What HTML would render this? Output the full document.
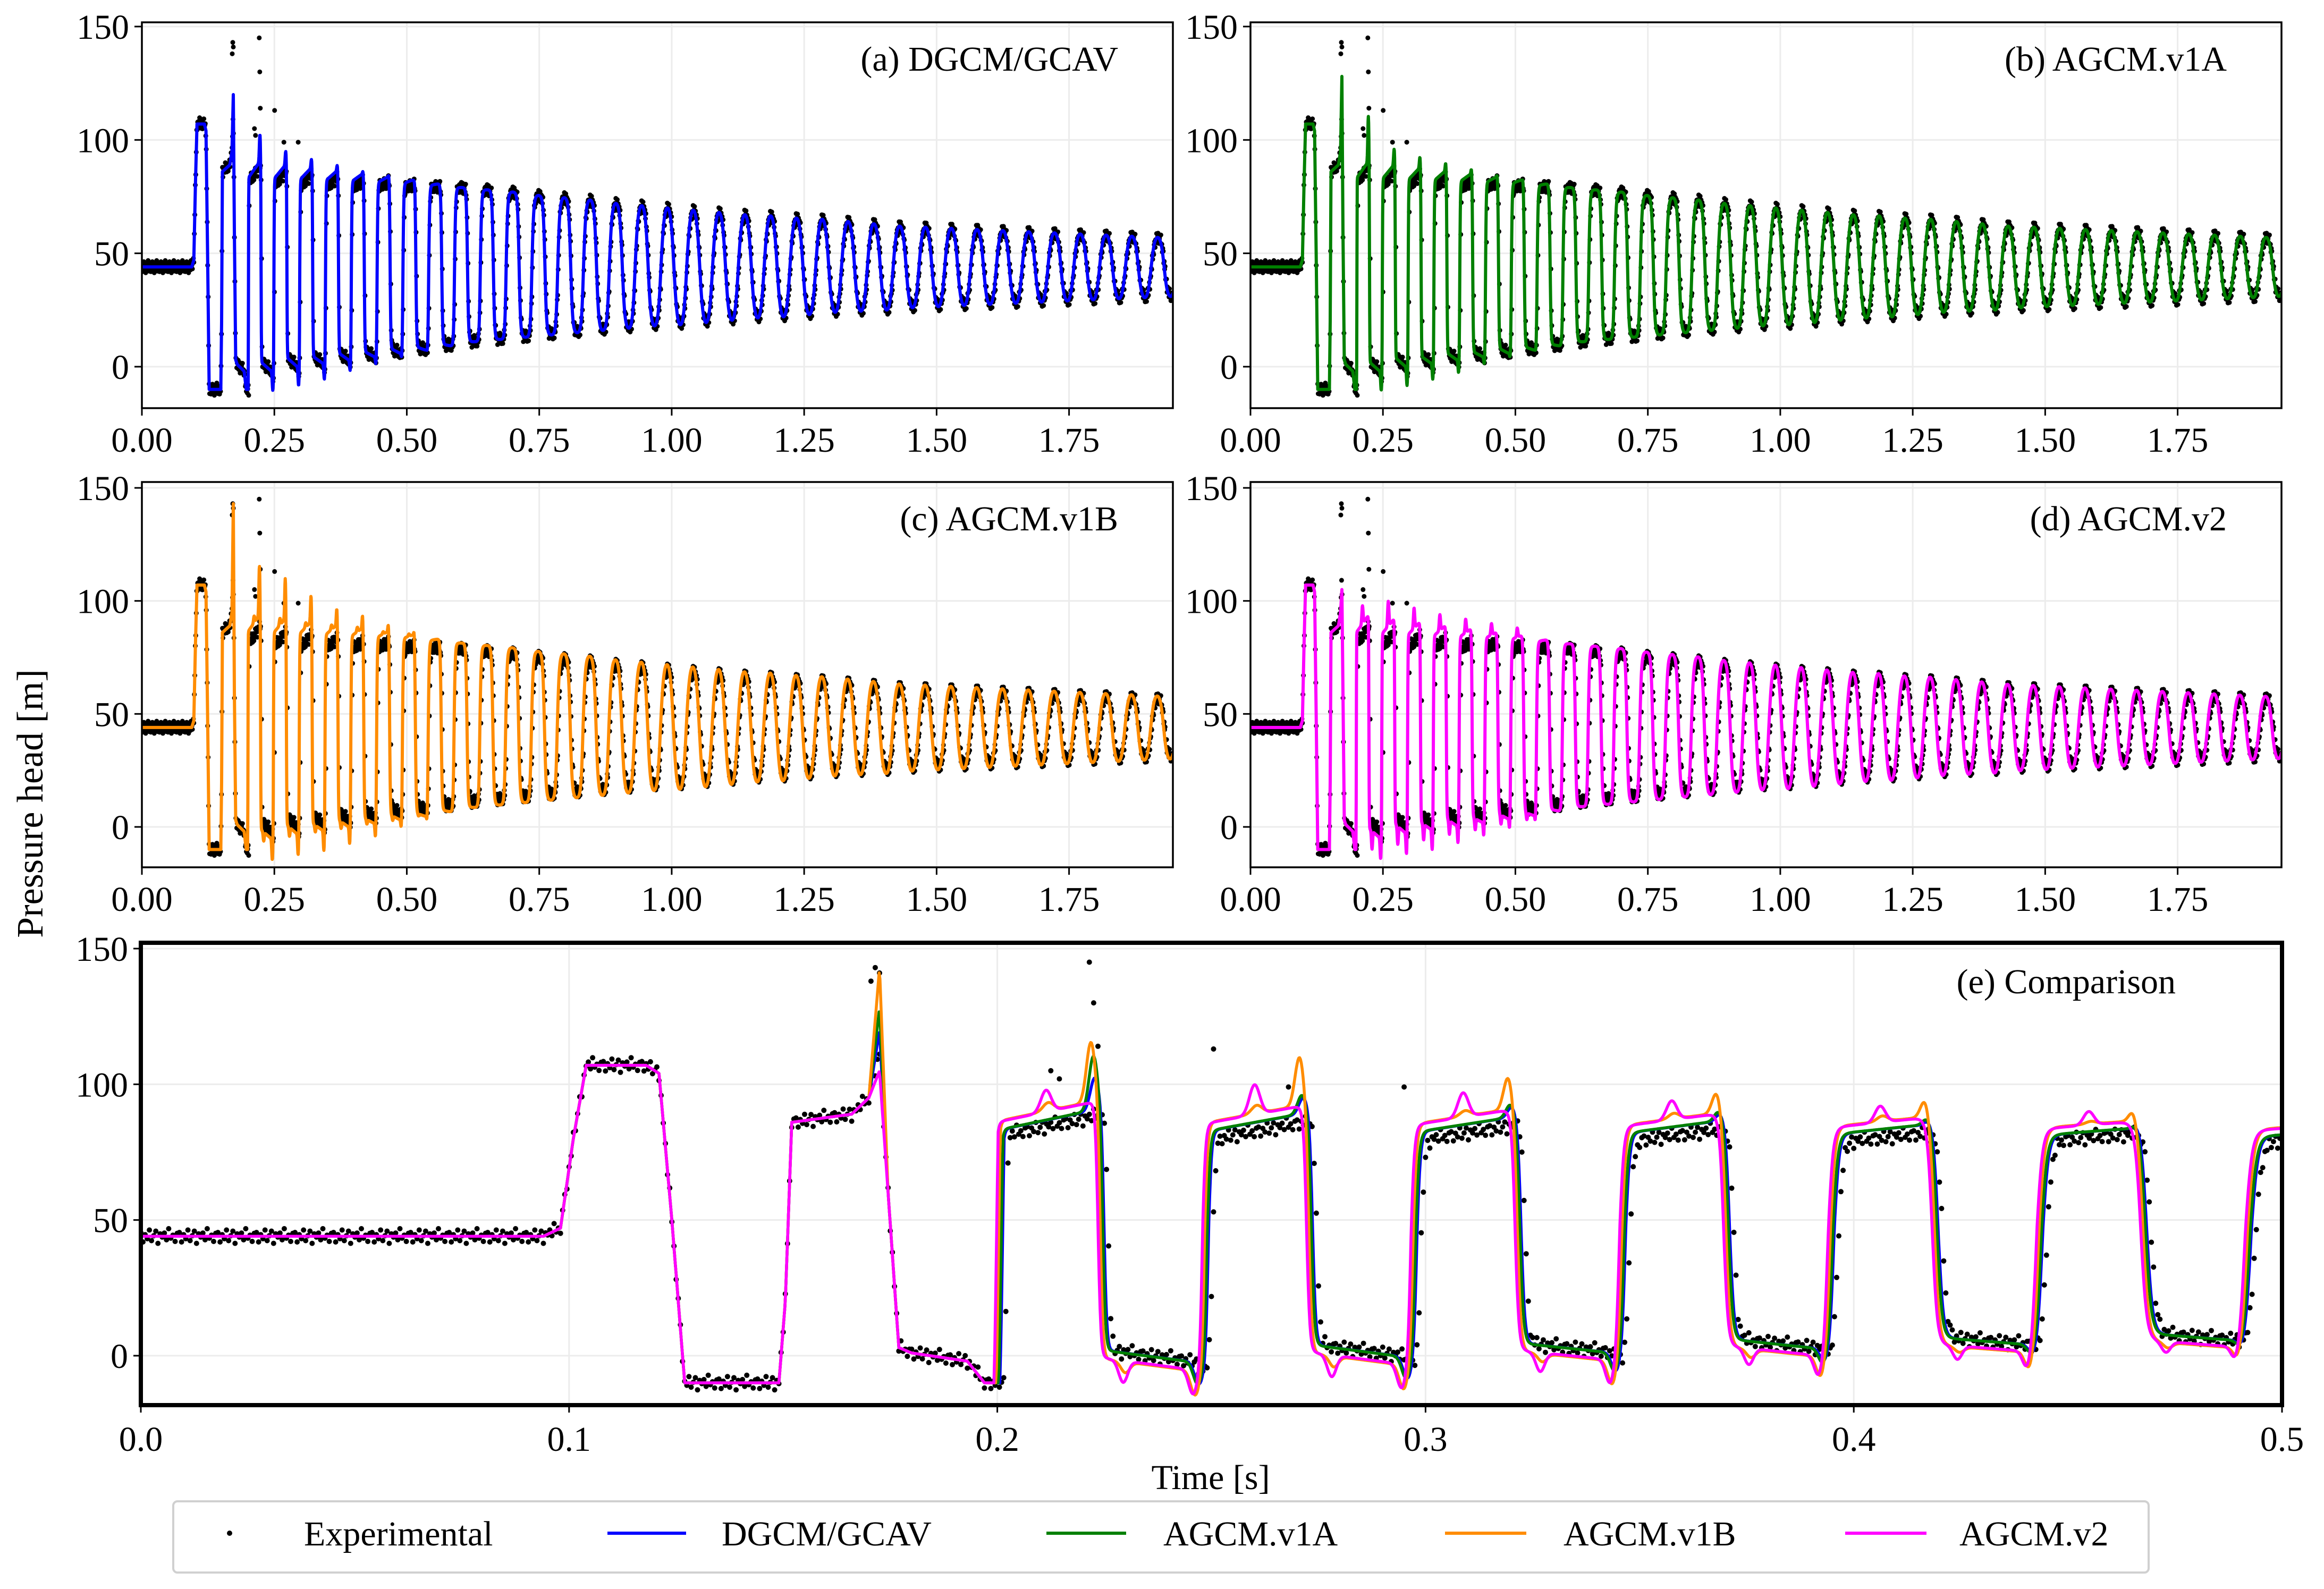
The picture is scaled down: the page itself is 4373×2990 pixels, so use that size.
<!DOCTYPE html>
<html><head><meta charset="utf-8">
<style>
html,body{margin:0;padding:0;background:#fff;}
svg{display:block;font-family:"Liberation Serif","DejaVu Serif",serif;}
</style></head>
<body>
<svg id="fig" width="4373" height="2990" viewBox="0 0 4373 2990" xmlns="http://www.w3.org/2000/svg">
<rect x="0" y="0" width="4373" height="2990" fill="#fff"/>
<g id="panels"></g>
<text x="0" y="0" transform="translate(80,1512) rotate(-90)" text-anchor="middle" font-size="70">Pressure head [m]</text>
<text x="2278" y="2802" text-anchor="middle" font-size="66">Time [s]</text>
<g>
  <rect x="326" y="2825" width="3717" height="134" rx="8" fill="#fff" stroke="#d0d0d0" stroke-width="4"/>
  <g>
    <circle cx="432" cy="2885" r="5" fill="#000"/>
    <text x="572" y="2908" font-size="66">Experimental</text>
  </g>
  <g>
    <line x1="1143" y1="2885" x2="1291" y2="2885" stroke="#0000ff" stroke-width="6"/>
    <text x="1358" y="2908" font-size="66">DGCM/GCAV</text>
  </g>
  <g>
    <line x1="1969" y1="2885" x2="2119" y2="2885" stroke="#008000" stroke-width="6"/>
    <text x="2189" y="2908" font-size="66">AGCM.v1A</text>
  </g>
  <g>
    <line x1="2719" y1="2885" x2="2872" y2="2885" stroke="#ff8c00" stroke-width="6"/>
    <text x="2942" y="2908" font-size="66">AGCM.v1B</text>
  </g>
  <g>
    <line x1="3472" y1="2885" x2="3625" y2="2885" stroke="#ff00ff" stroke-width="6"/>
    <text x="3687" y="2908" font-size="66">AGCM.v2</text>
  </g>
</g>
</svg>
<script>
// ---- data ----
const modelNames = ['DGCM/GCAV','AGCM.v1A','AGCM.v1B','AGCM.v2'];
const period = 0.0487;
const firstRise = 0.2;
const cycleHigh = [88,87,86,85,84,83,82,80.5,79,78,77,75.5,74.5,73.5,72,71,70,69,68,67,66.5,65.5,65,64,63,62,61.5,61,60.5,60,59.5,59,58.5,58,57.5,57,56.5,56];
const cycleLow  = [0,2,3,4.5,5.5,7,8,9.5,11,12,13,14,15,16,17,18,18.5,19.5,20.5,21.5,22,23,24,24.5,25,26,26.5,27,27.5,28,28.5,29,29.5,30,30.5,31,31.5,32];
const highTilt = [8,7,6,5,4,3,2,1];
const lowTilt  = [5,5,4,4,3,3,2,1];
const initTimes  = [0,0.094,0.098,0.101,0.104,0.118,0.121,0.124,0.127,0.149,0.1505,0.152,0.166,0.170,0.1725,0.1745,0.177,0.18,0.193,0.197,0.1999];
const initValues = [44,44,47,80,107,107,104,50,-10,-10,20,86,89,95,0,60,3,1,-2,-10,-10];
const initSpikeIndex = 14;
const initSpike = [120,128,143,105];
const expInitSpike = 112;
const modelShift = [0.0006,0.0003,-0.0003,-0.0008];
const modelAmp = [1.0,1.0,1.07,1.06];
const endSpike = [[12,6,4,3,2,2,1],[20,7,5,4,3,2,2],[22,18,12,8,7,5,4],[0,0,0,0,0,0,0]];
const midBump = [[0,0,0,0,0,0,0],[0,0,0,0,0,0,0],[3,3,2,2,2,1,1],[8,11,9,7,6,5,4]];
const lowDip = [[-8,-8,-7,-5,-4,-3,-2],[-8,-8,-7,-6,-4,-3,-2],[-9,-9,-9,-8,-7,-5,-4],[-9,-9,-9,-8,-7,-6,-5]];
const lowBump = [[0,0,0,0,0,0,0],[0,0,0,0,0,0,0],[-4,-4,-3,-3,-2,-2,-1],[-8,-8,-7,-6,-5,-4,-3]];
const expShift = 0.0016;
const expHighOffset = [-2,-3,-3,-3,-3,-2,-2,-1];
const expNoise = [1.4,-2.1,0.6,-0.9,2.3,-1.6,0.2,1.9,-2.6,0.9,-0.3,1.2,-1.3,2.8,-0.7,0.4,-1.9,1.1];
const outlierTimes  = [0.1705,0.1715,0.1725,0.2215,0.2225,0.2235,0.2505,0.2125,0.2145,0.268,0.295];
const outlierValues = [138,143,141,145,130,114,113,105,102,99,99];
const xTicksTop = ['0.00','0.25','0.50','0.75','1.00','1.25','1.50','1.75'];
const xTicksE = ['0.0','0.1','0.2','0.3','0.4','0.5'];
const yTicks = [0,50,100,150];

// ---- layout ----
const colors = ['#0000ff','#008000','#ff8c00','#ff00ff'];
const panels = [
 {id:'a',title:'(a) DGCM/GCAV',models:[0],x0:267,x1:2207,tMax:1.946,top:42,bot:768,zero:690,ppu:4.267,tx:2104,ty:133,ticks:xTicksTop,tickY:850},
 {id:'b',title:'(b) AGCM.v1A',models:[1],x0:2353,x1:4293,tMax:1.946,top:42,bot:768,zero:690,ppu:4.267,tx:4190,ty:133,ticks:xTicksTop,tickY:850},
 {id:'c',title:'(c) AGCM.v1B',models:[2],x0:267,x1:2207,tMax:1.946,top:907,bot:1632,zero:1556,ppu:4.253,tx:2104,ty:998,ticks:xTicksTop,tickY:1714},
 {id:'d',title:'(d) AGCM.v2',models:[3],x0:2353,x1:4293,tMax:1.946,top:907,bot:1632,zero:1556,ppu:4.253,tx:4190,ty:998,ticks:xTicksTop,tickY:1714},
 {id:'e',title:'(e) Comparison',models:[0,1,2,3],x0:265,x1:4294,tMax:0.5,top:1774,bot:2644,zero:2551,ppu:5.107,tx:4094,ty:1869,ticks:xTicksE,tickY:2730,thick:true}
];

function interp(ts,vs,t){
  for(let i=1;i<ts.length;i++){ if(t<=ts[i]){const f=(t-ts[i-1])/(ts[i]-ts[i-1]);return vs[i-1]+f*(vs[i]-vs[i-1]);} }
  return vs[vs.length-1];
}
function waveValue(t, shift, amp, spikeArr, bumpArr, dipArr, lbArr, initPeak, highOff){
  const tt=t-shift;
  if(tt<firstRise){
    const vals=initValues.slice(); vals[initSpikeIndex]=initPeak;
    return interp(initTimes,vals,Math.max(0,t));
  }
  const c=(tt-firstRise)/period; const k=Math.floor(c); const ph=c-k;
  const kk=Math.min(k,cycleHigh.length-1);
  let h=cycleHigh[kk]+((highOff&&k<highOff.length)?highOff[k]:0), l=cycleLow[kk];
  const mid=(h+l)/2, a=(h-l)/2*amp;
  const sh=Math.max(1.0,12*Math.pow(0.86,k));
  const s=Math.tanh(sh*Math.sin(2*Math.PI*ph))/Math.tanh(sh);
  let v=mid+a*s;
  if(k===0&&ph<0.05) v=Math.max(-10+(v+10)*Math.min(1,ph/0.02),-10);
  if(k<highTilt.length){
    if(s>0) v+=s*highTilt[k]*(ph/0.5-0.6);
    else v+=(-s)*lowTilt[k]*(0.4-(ph-0.5)/0.5);
  }
  if(k<7){
    if(spikeArr) v+=spikeArr[k]*Math.exp(-Math.pow((ph-0.455)/0.03,2));
    if(bumpArr) v+=bumpArr[k]*Math.exp(-Math.pow((ph-0.25)/0.035,2));
    if(dipArr) v+=dipArr[k]*Math.exp(-Math.pow((ph-0.955)/0.03,2));
    if(lbArr) v+=lbArr[k]*Math.exp(-Math.pow((ph-0.62)/0.03,2));
  }
  return v;
}

const NS='http://www.w3.org/2000/svg';
const root=document.getElementById('panels');
function mk(tag,attrs,parent){const e=document.createElementNS(NS,tag);for(const k in attrs)e.setAttribute(k,attrs[k]);parent.appendChild(e);return e;}

panels.forEach(p=>{
  const g=mk('g',{},root);
  
  
  const X=t=>p.x0+t*((p.x1-p.x0)/p.tMax);
  const Y=v=>p.zero-v*p.ppu;
  const cp=mk('clipPath',{id:'clip'+p.id},g);
  mk('rect',{x:p.x0,y:p.top,width:p.x1-p.x0,height:p.bot-p.top},cp);
  const tickVals=p.ticks.map(Number);
  tickVals.forEach(t=>{const gl=mk('line',{x1:X(t),x2:X(t),y1:p.top,y2:p.bot,stroke:'#ececec','stroke-width':3},g);
    });
  yTicks.forEach(v=>{const gl=mk('line',{x1:p.x0,x2:p.x1,y1:Y(v),y2:Y(v),stroke:'#ececec','stroke-width':3},g);
    });
  const data=mk('g',{'clip-path':'url(#clip'+p.id+')'},g);
  const dt=p.id==='e'?0.0005:0.0009;
  const r=p.id==='e'?5:4.5;
  const dots=mk('g',{fill:'#000'},data);
  
  
  let n=0;
  for(let t=0;t<=p.tMax;t+=dt){
    const v=waveValue(t,expShift,1.0,null,null,[-3,-3,-3,-2,-2,-1,-1],null,expInitSpike,expHighOffset)+expNoise[n%expNoise.length];
    n++;
    mk('circle',{cx:X(t).toFixed(1),cy:Y(v).toFixed(1),r:r},dots);
  }
  outlierTimes.forEach((t,i)=>{ if(t<=p.tMax){ const c=mk('circle',{cx:X(t).toFixed(1),cy:Y(outlierValues[i]).toFixed(1),r:r},dots);
     }});
  p.models.forEach(m=>{
    const pts=[];
    const step=p.id==='e'?0.0002:0.0005;
    for(let t=0;t<=p.tMax+step;t+=step){
      const v=waveValue(t,modelShift[m],modelAmp[m],endSpike[m],midBump[m],lowDip[m],lowBump[m],initSpike[m],null);
      pts.push(X(t).toFixed(1)+','+Y(v).toFixed(1));
    }
    const pl=mk('polyline',{points:pts.join(' '),fill:'none',stroke:colors[m],'stroke-width':p.id==='e'?5.5:6,'stroke-linejoin':'round'},data);
    
    
  });
  const sw=p.thick?8:3.5;
  const fr=mk('rect',{x:p.x0,y:p.top,width:p.x1-p.x0,height:p.bot-p.top,fill:'none',stroke:'#000','stroke-width':sw},g);
  
  tickVals.forEach((t,i)=>{
    mk('line',{x1:X(t),x2:X(t),y1:p.bot,y2:p.bot+14,stroke:'#000','stroke-width':3},g);
    const tl=mk('text',{x:X(t),y:p.tickY,'text-anchor':'middle','font-size':66},g);
    tl.textContent=p.ticks[i];
    
  });
  yTicks.forEach(v=>{
    mk('line',{x1:p.x0-14,x2:p.x0,y1:Y(v),y2:Y(v),stroke:'#000','stroke-width':3},g);
    const tl=mk('text',{x:p.x0-24,y:Y(v)+23,'text-anchor':'end','font-size':66},g);
    tl.textContent=String(v);
    
  });
  const tt=mk('text',{x:p.tx,y:p.ty,'text-anchor':'end','font-size':66},g);
  tt.textContent=p.title;
  
  
});
</script>
</body></html>
